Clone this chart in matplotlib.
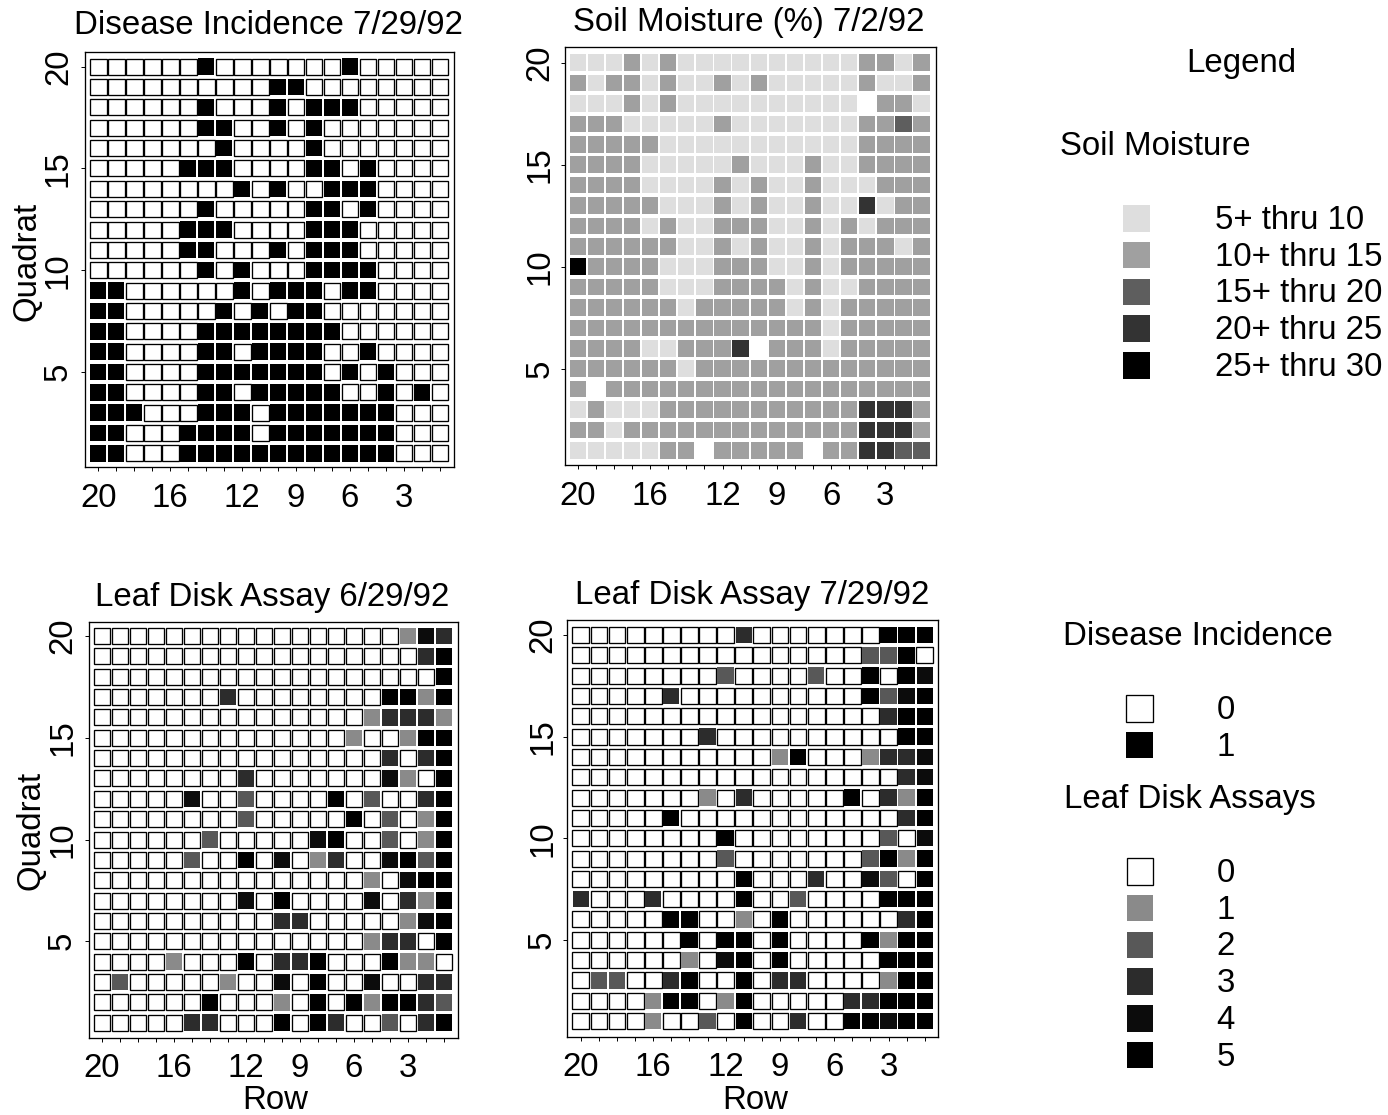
import matplotlib
matplotlib.use("Agg")
import matplotlib.pyplot as plt
from matplotlib.patches import Rectangle
import numpy as np

plt.rcParams['font.family'] = ['Liberation Sans', 'DejaVu Sans']

W, H = 1388, 1115
FS = 23.8

row_numbers = list(range(20, 0, -1))
quadrat_numbers = list(range(20, 0, -1))
row_tick_labels = [20, 16, 12, 9, 6, 3]
quadrat_tick_labels = [20, 15, 10, 5]

# each string: one quadrat (20 at top -> 1 at bottom), characters run row 20 -> row 1
disease_incidence = [
    "00000010000000100000", "00000000001100000000", "00000010001011100000", "00000011001010000000",
    "00000001000010000000", "00000111000011010000", "00000000101001110000", "00000010000011010000",
    "00000111000011100000", "00000110001011100000", "00000010100011110000", "11000000101110110000",
    "11000001010110000000", "11000011111111000000", "11000011011110010000", "11000011111110101000",
    "11000011011111001010", "11100011101111111000", "11000111101111111000", "11000111111111111000",
]
soil_moisture = [
    "11121211111111112212", "21221211212111112112", "11121211111111110221", "22211111211111112232",
    "22222111111111112222", "22221111121112112222", "22221111212112111222", "22222111212112114122",
    "22221211222112121222", "22222211212112122212", "52222111222112122222", "22222111222212112222",
    "22222212222212122222", "22222222222222122222", "22221122240222122222", "22222212222222222222",
    "20222222222222222222", "12111222222222224442", "22122222222222224442", "11111220222220224433",
]
leaf_disk_0629 = [
    "00000000000000000143", "00000000000000000035", "00000000000000000005", "00000003000000005515",
    "00000000000000013331", "00000000000000100155", "00000000000000003035", "00000000300000004105",
    "00000400200005020035", "00000000200000502015", "00000020000045002015", "00000200504013004525",
    "00000000000000010455", "00000000405000040315", "00000000003300000145", "00000000000000013305",
    "00001000503350005110", "02000001004050040033", "00000050001050515532", "00000330005053002035",
]
leaf_disk_0729 = [
    "00000000030000000555", "00000000000000002250", "00000000200002005054", "00000300000000005245",
    "00000000000000000355", "00000003000000000055", "00000000000150001334", "00000000000000000034",
    "00000001030000050315", "00000500000000000035", "00000000500000000204", "00000000200000002515",
    "00000000050003004205", "30003000050020000555", "00000550010500000035", "00000050550500005155",
    "00000010450500000555", "02200350050330000155", "00001550150000033555", "00001002050030055455",
]

soil_colors = {1: '#dedede', 2: '#a0a0a0', 3: '#5e5e5e', 4: '#333333', 5: '#000000'}
leaf_colors = {1: '#8a8a8a', 2: '#585858', 3: '#2c2c2c', 4: '#0c0c0c', 5: '#000000'}
disease_colors = {1: '#000000'}

soil_legend_labels = ['5+ thru 10', '10+ thru 15', '15+ thru 20', '20+ thru 25', '25+ thru 30']
disease_legend_labels = ['0', '1']
leaf_legend_labels = ['0', '1', '2', '3', '4', '5']

fig = plt.figure(figsize=(W / 100, H / 100), dpi=100, facecolor='white')


def panel(grid, colors, title, frame, first, pitch, title_xy, ylab_x=None, ylab_y=None,
          xlab_xy=None, boxed=True, ylabel_pad=7.0, tick_base=None):
    l, r, t, b = frame
    x1, y20 = first
    px, py = pitch
    ax = fig.add_axes([l / W, 1 - b / H, (r - l) / W, (b - t) / H])
    ax.set_xlim(20 + (x1 - l) / px, 20 - (r - x1) / px)
    ax.set_ylim(20 - (b - y20) / py, 20 + (y20 - t) / py)
    arr = np.array([[int(c) for c in s] for s in grid])
    fill_w, fill_h = 16.3 / px, 16.5 / py
    for j, q in enumerate(quadrat_numbers):
        for i, rw in enumerate(row_numbers):
            v = arr[j, i]
            if v == 0:
                if boxed:
                    ax.bar(rw, 16.0 / py, bottom=q - 8.0 / py, width=16.8 / px,
                           facecolor='white', edgecolor='black', linewidth=0.95)
            else:
                ax.bar(rw, fill_h, bottom=q - fill_h / 2, width=fill_w,
                       color=colors[v], linewidth=0)
    ax.set_xticks(row_numbers)
    ax.set_xticklabels([str(n) if n in row_tick_labels else '' for n in row_numbers], fontsize=FS)
    ax.set_yticks(quadrat_tick_labels)
    ax.set_yticklabels([str(n) for n in quadrat_tick_labels], fontsize=FS, rotation=90, va='center')
    ax.tick_params(axis='both', length=2.6, width=0.7, color='black')
    ax.tick_params(axis='x', pad=(tick_base - b - 3.5 - 24.3) * 0.72)
    ax.tick_params(axis='y', pad=ylabel_pad * 0.72)
    for s in ax.spines.values():
        s.set_linewidth(0.95)
    ax.set_title(title, fontsize=FS, va='baseline', ha='center',
                 x=(title_xy[0] - l) / (r - l), y=(b - title_xy[1]) / (b - t), pad=0)
    if ylab_x is not None:
        ax.set_ylabel('Quadrat', fontsize=FS, va='baseline', ha='center')
        ax.yaxis.set_label_coords((ylab_x - l) / (r - l), (b - ylab_y) / (b - t))
    if xlab_xy is not None:
        ax.set_xlabel('Row', fontsize=FS, va='baseline', ha='center')
        ax.xaxis.set_label_coords((xlab_xy[0] - l) / (r - l), (b - xlab_xy[1]) / (b - t))
    return ax


panel(disease_incidence, disease_colors, 'Disease Incidence 7/29/92',
      (84.5, 454, 52, 467), (98.3, 66.7), (17.98, 20.35), (268, 34.3),
      ylab_x=35, ylab_y=261, tick_base=506.7)
panel(soil_moisture, soil_colors, 'Soil Moisture (%) 7/2/92',
      (564.5, 936, 47, 465), (577.7, 62.7), (18.1, 20.4), (748.7, 31),
      boxed=False, tick_base=505, ylabel_pad=5.5)
panel(leaf_disk_0629, leaf_colors, 'Leaf Disk Assay 6/29/92',
      (88.7, 458, 621.7, 1038.3), (102, 636), (18.0, 20.35), (272, 606),
      ylab_x=40, ylab_y=830, xlab_xy=(275, 1109.3), tick_base=1077.3)
panel(leaf_disk_0729, leaf_colors, 'Leaf Disk Assay 7/29/92',
      (567.2, 938.3, 620, 1036.7), (580.8, 635), (18.1, 20.32), (751.7, 604),
      xlab_xy=(755, 1109), tick_base=1075.7, ylabel_pad=5.5)

# Legend column drawn in a full-figure axes scaled in pixels
lg = fig.add_axes([0, 0, 1, 1], facecolor='none')
lg.set_xlim(0, W)
lg.set_ylim(H, 0)
lg.axis('off')


def legend_block(labels, colors, sw_x, lab_x, first_base, pitch=36.7, swatch=26.5):
    for i, (lab, c) in enumerate(zip(labels, colors)):
        base = first_base + i * pitch
        cy = base - 10.5
        if c is None:
            lg.add_patch(Rectangle((sw_x, cy - swatch / 2), swatch, swatch, facecolor='white',
                                   edgecolor='black', linewidth=0.95))
        else:
            lg.add_patch(Rectangle((sw_x, cy - swatch / 2), swatch, swatch, facecolor=c, linewidth=0))
        lg.text(lab_x, base, lab, fontsize=FS, va='baseline', ha='left')


lg.text(1241.7, 72, 'Legend', fontsize=FS, ha='center', va='baseline')
lg.text(1060, 155, 'Soil Moisture', fontsize=FS, ha='left', va='baseline')
legend_block(soil_legend_labels, [soil_colors[k] for k in range(1, 6)], 1123.5, 1215, 229)
lg.text(1063.5, 645, 'Disease Incidence', fontsize=FS, ha='left', va='baseline')
legend_block(disease_legend_labels, [None, '#000000'], 1126.5, 1216.7, 719)
lg.text(1064, 808, 'Leaf Disk Assays', fontsize=FS, ha='left', va='baseline')
legend_block(leaf_legend_labels, [None] + [leaf_colors[k] for k in range(1, 6)], 1127, 1216.7, 882)

fig.savefig('out.png', dpi=100, facecolor='white')
